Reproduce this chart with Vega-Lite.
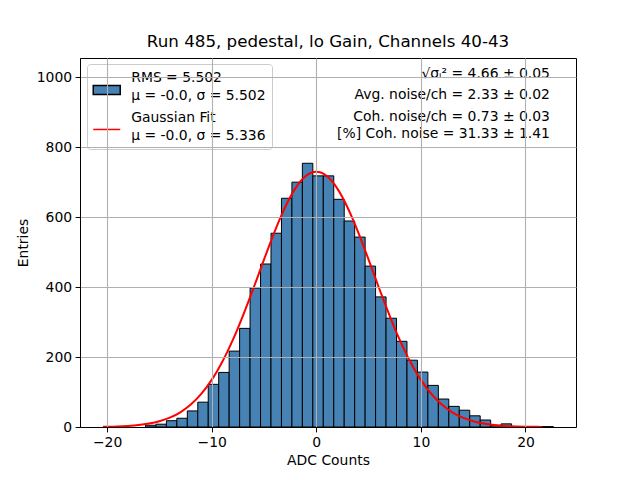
{
  "$schema": "https://vega.github.io/schema/vega-lite/v6.json",
  "width": 496,
  "height": 369,
  "autosize": {"type": "none"},
  "padding": {"left": 80, "top": 58, "right": 64, "bottom": 53},
  "background": "white",
  "title": {
    "text": "Run 485, pedestal, lo Gain, Channels 40-43",
    "font": "DejaVu Sans",
    "fontSize": 16.7,
    "fontWeight": "normal",
    "color": "black",
    "offset": 7
  },
  "config": {
    "font": "DejaVu Sans",
    "view": {"stroke": "black", "strokeWidth": 1},
    "style": {"guide-label": {"lineHeight": 18}},
    "axis": {
      "labelFont": "DejaVu Sans",
      "labelFontSize": 13.9,
      "labelColor": "black",
      "titleFont": "DejaVu Sans",
      "titleFontSize": 13.9,
      "titleFontWeight": "normal",
      "titleColor": "black",
      "domainColor": "black",
      "tickColor": "black",
      "tickSize": 4.9,
      "labelPadding": 3.5,
      "gridColor": "#b0b0b0",
      "gridWidth": 1.1,
      "grid": true
    },
    "axisX": {"titlePadding": 4},
    "axisY": {"titlePadding": 6},
    "legend": {
      "orient": "none",
      "legendX": 7,
      "legendY": 6,
      "padding": 6,
      "symbolSize": 196,
      "symbolStrokeWidth": 1.5,
      "symbolOffset": 5.75,
      "labelFont": "DejaVu Sans",
      "labelFontSize": 13.9,
      "labelColor": "black",
      "labelOffset": 16.5,
      "labelLimit": 300,
      "rowPadding": 6.5,
      "strokeColor": "#cccccc",
      "fillColor": "rgba(255,255,255,0.8)",
      "cornerRadius": 3
    }
  },
  "datasets": {
    "bins": [
      {"start": -16.33, "end": -15.33, "count": 5},
      {"start": -15.33, "end": -14.33, "count": 8},
      {"start": -14.33, "end": -13.33, "count": 18},
      {"start": -13.33, "end": -12.33, "count": 25},
      {"start": -12.33, "end": -11.33, "count": 46},
      {"start": -11.33, "end": -10.33, "count": 71},
      {"start": -10.33, "end": -9.33, "count": 122},
      {"start": -9.33, "end": -8.33, "count": 156},
      {"start": -8.33, "end": -7.33, "count": 217},
      {"start": -7.33, "end": -6.33, "count": 282},
      {"start": -6.33, "end": -5.33, "count": 397},
      {"start": -5.33, "end": -4.33, "count": 466},
      {"start": -4.33, "end": -3.33, "count": 554},
      {"start": -3.33, "end": -2.33, "count": 654},
      {"start": -2.33, "end": -1.33, "count": 700},
      {"start": -1.33, "end": -0.33, "count": 754},
      {"start": -0.33, "end": 0.67, "count": 718},
      {"start": 0.67, "end": 1.67, "count": 718},
      {"start": 1.67, "end": 2.67, "count": 651},
      {"start": 2.67, "end": 3.67, "count": 589},
      {"start": 3.67, "end": 4.67, "count": 543},
      {"start": 4.67, "end": 5.67, "count": 460},
      {"start": 5.67, "end": 6.67, "count": 372},
      {"start": 6.67, "end": 7.67, "count": 311},
      {"start": 7.67, "end": 8.67, "count": 245},
      {"start": 8.67, "end": 9.67, "count": 191},
      {"start": 9.67, "end": 10.67, "count": 157},
      {"start": 10.67, "end": 11.67, "count": 119},
      {"start": 11.67, "end": 12.67, "count": 80},
      {"start": 12.67, "end": 13.67, "count": 59},
      {"start": 13.67, "end": 14.67, "count": 48},
      {"start": 14.67, "end": 15.67, "count": 32},
      {"start": 15.67, "end": 16.67, "count": 20},
      {"start": 16.67, "end": 17.67, "count": 5},
      {"start": 17.67, "end": 18.67, "count": 9},
      {"start": 18.67, "end": 19.67, "count": 1},
      {"start": 20.67, "end": 21.67, "count": 1},
      {"start": 21.67, "end": 22.67, "count": 1}
    ],
    "fit": [
      {"x": -20.4, "y": 0.7},
      {"x": -20, "y": 0.85},
      {"x": -19, "y": 1.6},
      {"x": -18, "y": 3.1},
      {"x": -17, "y": 5.5},
      {"x": -16, "y": 9.7},
      {"x": -15, "y": 16.3},
      {"x": -14, "y": 26.6},
      {"x": -13, "y": 42.0},
      {"x": -12, "y": 64.1},
      {"x": -11, "y": 94.5},
      {"x": -10, "y": 134.8},
      {"x": -9.5, "y": 159.0},
      {"x": -9, "y": 185.8},
      {"x": -8.5, "y": 215.4},
      {"x": -8, "y": 247.6},
      {"x": -7.5, "y": 282.3},
      {"x": -7, "y": 319.0},
      {"x": -6.5, "y": 357.6},
      {"x": -6, "y": 397.4},
      {"x": -5.5, "y": 437.9},
      {"x": -5, "y": 478.5},
      {"x": -4.5, "y": 518.5},
      {"x": -4, "y": 557.1},
      {"x": -3.5, "y": 593.5},
      {"x": -3, "y": 627.0},
      {"x": -2.5, "y": 656.9},
      {"x": -2, "y": 682.3},
      {"x": -1.5, "y": 702.8},
      {"x": -1, "y": 717.8},
      {"x": -0.5, "y": 726.9},
      {"x": 0, "y": 730},
      {"x": 0.5, "y": 726.9},
      {"x": 1, "y": 717.8},
      {"x": 1.5, "y": 702.8},
      {"x": 2, "y": 682.3},
      {"x": 2.5, "y": 656.9},
      {"x": 3, "y": 627.0},
      {"x": 3.5, "y": 593.5},
      {"x": 4, "y": 557.1},
      {"x": 4.5, "y": 518.5},
      {"x": 5, "y": 478.5},
      {"x": 5.5, "y": 437.9},
      {"x": 6, "y": 397.4},
      {"x": 6.5, "y": 357.6},
      {"x": 7, "y": 319.0},
      {"x": 7.5, "y": 282.3},
      {"x": 8, "y": 247.6},
      {"x": 8.5, "y": 215.4},
      {"x": 9, "y": 185.8},
      {"x": 9.5, "y": 159.0},
      {"x": 10, "y": 134.8},
      {"x": 11, "y": 94.5},
      {"x": 12, "y": 64.1},
      {"x": 13, "y": 42.0},
      {"x": 14, "y": 26.6},
      {"x": 15, "y": 16.3},
      {"x": 16, "y": 9.7},
      {"x": 17, "y": 5.5},
      {"x": 18, "y": 3.1},
      {"x": 19, "y": 1.6},
      {"x": 20, "y": 0.85},
      {"x": 21, "y": 0.42},
      {"x": 21.6, "y": 0.3}
    ],
    "notes": [
      {"tx": 22.34, "ty": 1008, "label": "√σᵢ² = 4.66 ± 0.05"},
      {"tx": 22.34, "ty": 948, "label": "Avg. noise/ch = 2.33 ± 0.02"},
      {"tx": 22.34, "ty": 887, "label": "Coh. noise/ch = 0.73 ± 0.03"},
      {"tx": 22.34, "ty": 839, "label": "[%] Coh. noise = 31.33 ± 1.41"}
    ]
  },
  "layer": [
    {
      "data": {"name": "bins"},
      "mark": {"type": "bar", "strokeWidth": 1},
      "encoding": {
        "x": {
          "field": "start",
          "type": "quantitative",
          "title": "ADC Counts",
          "scale": {"domain": [-22.59, 24.83], "nice": false, "zero": false},
          "axis": {"values": [-20, -10, 0, 10, 20], "zindex": 1}
        },
        "x2": {"field": "end"},
        "y": {
          "field": "count",
          "type": "quantitative",
          "title": "Entries",
          "scale": {"domain": [0, 1055], "nice": false},
          "axis": {"values": [0, 200, 400, 600, 800, 1000], "format": "d", "zindex": 1}
        },
        "y2": {"datum": 0},
        "color": {
          "datum": "RMS",
          "type": "nominal",
          "scale": {"domain": ["RMS", "Gauss"], "range": ["#4682b4", "transparent"]},
          "legend": {
            "title": null,
            "labelExpr": "datum.value === 'RMS' ? ['RMS = 5.502', 'μ = -0.0, σ = 5.502'] : ['Gaussian Fit', 'μ = -0.0, σ = 5.336']"
          }
        },
        "stroke": {
          "datum": "RMS",
          "type": "nominal",
          "scale": {"domain": ["RMS", "Gauss"], "range": ["black", "#ff0000"]},
          "legend": {
            "title": null,
            "labelExpr": "datum.value === 'RMS' ? ['RMS = 5.502', 'μ = -0.0, σ = 5.502'] : ['Gaussian Fit', 'μ = -0.0, σ = 5.336']"
          }
        }
      }
    },
    {
      "data": {"name": "fit"},
      "mark": {"type": "line", "strokeWidth": 2, "interpolate": "monotone", "color": "#ff0000"},
      "encoding": {
        "x": {"field": "x", "type": "quantitative", "title": "ADC Counts"},
        "y": {"field": "y", "type": "quantitative", "title": "Entries"}
      }
    },
    {
      "data": {"name": "notes"},
      "mark": {"type": "text", "align": "right", "baseline": "middle", "fontSize": 13.9, "font": "DejaVu Sans", "fill": "black"},
      "encoding": {
        "x": {"field": "tx", "type": "quantitative", "title": "ADC Counts"},
        "y": {"field": "ty", "type": "quantitative", "title": "Entries"},
        "text": {"field": "label"}
      }
    },
    {
      "data": {"name": "notes"},
      "mark": {"type": "point", "clip": true, "filled": false},
      "encoding": {
        "x": {"datum": -40, "type": "quantitative", "title": "ADC Counts"},
        "y": {"datum": 500, "type": "quantitative", "title": "Entries"},
        "shape": {
          "datum": "RMS",
          "type": "nominal",
          "scale": {"domain": ["RMS", "Gauss"], "range": ["M-1.93,1.07H1.93V2.36H-1.93Z", "M-1.93,1.71H1.93"]},
          "legend": {
            "title": null,
            "labelExpr": "datum.value === 'RMS' ? ['RMS = 5.502', 'μ = -0.0, σ = 5.502'] : ['Gaussian Fit', 'μ = -0.0, σ = 5.336']"
          }
        }
      }
    }
  ]
}
